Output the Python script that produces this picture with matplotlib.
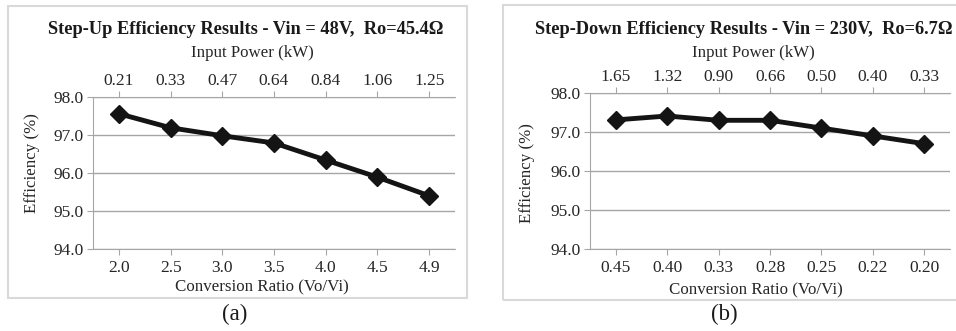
import matplotlib
matplotlib.use("Agg")
import matplotlib.pyplot as plt
from matplotlib.patches import Rectangle

plt.rcParams['font.family'] = ['Liberation Serif', 'DejaVu Serif']

# (a) step-up
upRatio = ["2.0", "2.5", "3.0", "3.5", "4.0", "4.5", "4.9"]
upPower = ["0.21", "0.33", "0.47", "0.64", "0.84", "1.06", "1.25"]
upEff = [97.56, 97.19, 96.98, 96.79, 96.34, 95.89, 95.40]

# (b) step-down
downRatio = ["0.45", "0.40", "0.33", "0.28", "0.25", "0.22", "0.20"]
downPower = ["1.65", "1.32", "0.90", "0.66", "0.50", "0.40", "0.33"]
downEff = [97.31, 97.41, 97.30, 97.30, 97.10, 96.90, 96.70]

W, H = 956, 331
gridColor = "#a6a6a6"
textColor = "#262626"


def px(x, y):
    return x / W, 1 - y / H


def drawPanel(fig, rect, ratio, power, eff, title, pos):
    ax = fig.add_axes(rect)
    xs = list(range(len(ratio)))
    ax.plot(xs, eff, color="#141414", lw=3.5, marker="D", ms=9.5, zorder=3)
    ax.set_xlim(-0.5, len(ratio) - 0.5)
    ax.set_ylim(94, 98)
    ax.set_yticks([94, 95, 96, 97, 98])
    ax.set_yticklabels(["%.1f" % v for v in [94, 95, 96, 97, 98]])
    ax.set_xticks(xs)
    ax.set_xticklabels(ratio)
    ax.grid(axis="y", color=gridColor, lw=1)
    for s in ["right", "top"]:
        ax.spines[s].set_visible(False)
    for s in ["left", "bottom"]:
        ax.spines[s].set_color(gridColor)
    ax.tick_params(axis="both", colors=gridColor, labelcolor=textColor,
                   labelsize=12.5, length=4, direction="out")
    ax.tick_params(axis="x", pad=4)
    ax.tick_params(axis="y", pad=3)

    top = ax.twiny()
    top.set_xlim(ax.get_xlim())
    top.set_xticks(xs)
    top.set_xticklabels(power)
    for s in ["right", "left", "bottom"]:
        top.spines[s].set_visible(False)
    top.spines["top"].set_color(gridColor)
    top.tick_params(axis="x", colors=gridColor, labelcolor=textColor,
                    labelsize=12.5, length=4, pad=pos["topPad"])

    fig.text(*px(*pos["title"]), title, ha="center", va="center",
             fontsize=13.2, fontweight="bold", color="#1a1a1a")
    fig.text(*px(*pos["top"]), "Input Power (kW)", ha="center", va="center",
             fontsize=12.2, color=textColor)
    fig.text(*px(*pos["xlab"]), "Conversion Ratio (Vo/Vi)", ha="center",
             va="center", fontsize=12.2, color=textColor)
    fig.text(*px(*pos["ylab"]), "Efficiency (%)", ha="center", va="center",
             rotation=90, fontsize=12.2, color=textColor)
    fig.text(*px(*pos["tag"]), pos["tagText"], ha="center", va="center",
             fontsize=16.5, color="#1a1a1a")
    x0, y0 = px(pos["frame"][0], pos["frame"][3])
    x1, y1 = px(pos["frame"][2], pos["frame"][1])
    fig.patches.append(Rectangle((x0, y0), x1 - x0, y1 - y0,
                                 transform=fig.transFigure, fill=False,
                                 ec="#d9d9d9", lw=1.5))
    return ax


fig = plt.figure(figsize=(W / 100, H / 100), dpi=100)

drawPanel(fig, [93 / W, 1 - 249 / H, 362 / W, 152 / H], upRatio, upPower, upEff,
          "Step-Up Efficiency Results - Vin = 48V,  Ro=45.4\u03a9",
          {"title": (246, 30), "top": (252, 53), "xlab": (262, 287),
           "ylab": (32, 163), "tag": (235, 314), "tagText": "(a)",
           "frame": (8, 6, 467, 298), "topPad": 2})

drawPanel(fig, [590 / W, 1 - 249 / H, 360 / W, 156 / H], downRatio, downPower, downEff,
          "Step-Down Efficiency Results - Vin = 230V,  Ro=6.7\u03a9",
          {"title": (744, 29), "top": (753, 53), "xlab": (756, 290),
           "ylab": (527, 173), "tag": (724, 314), "tagText": "(b)",
           "frame": (503, 5, 960, 300), "topPad": 2})

fig.savefig("out.png", dpi=100)
